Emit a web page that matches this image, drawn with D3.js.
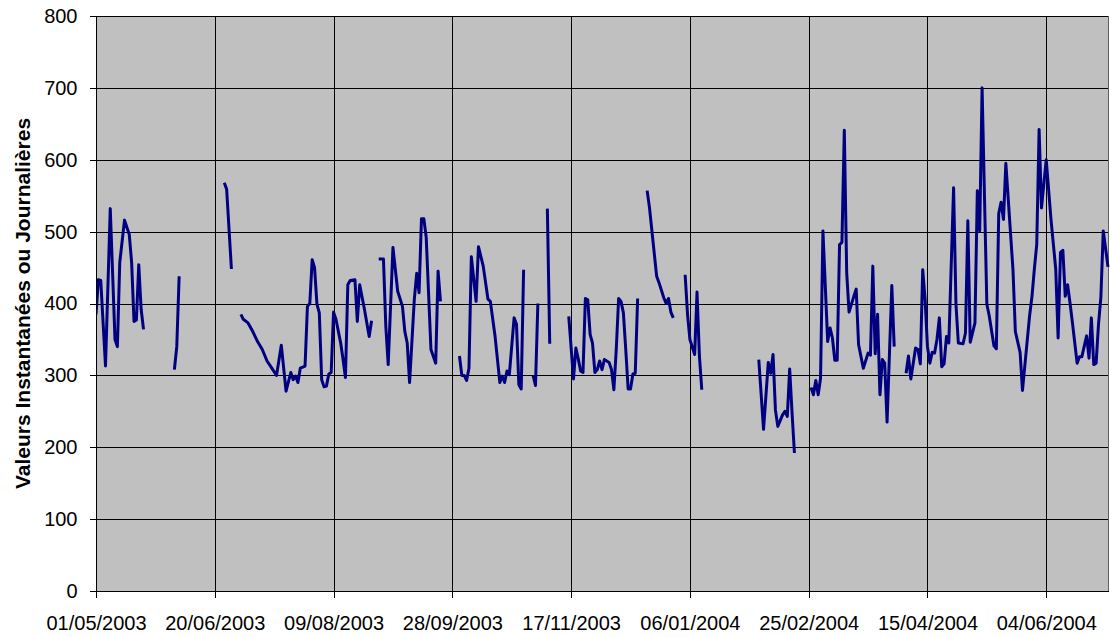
<!DOCTYPE html>
<html>
<head>
<meta charset="utf-8">
<script src="https://cdn.jsdelivr.net/npm/d3@7"></script>
<style>
  html, body { margin: 0; padding: 0; background: #ffffff; }
  svg { display: block; }
  text { font-family: "Liberation Sans", Arial, sans-serif; fill: #000; }
</style>
</head>
<body>
<svg id="chart" width="1110" height="637"></svg>
<script>
// Axis bounds and ticks
const startLabel = "01/05/2003";
const endLabel = "30/06/2004";
const xTickLabels = ["01/05/2003", "20/06/2003", "09/08/2003", "28/09/2003", "17/11/2003",
                     "06/01/2004", "25/02/2004", "15/04/2004", "04/06/2004"];
const yTicks = [0, 100, 200, 300, 400, 500, 600, 700, 800];
const yTitle = "Valeurs Instantanées ou Journalières";

// Observations: day number counted from 01/05/2003, and the value for that day.
// A null in both arrays marks a break in the record (no measurement).
const obsDay = [
  0, 1, 2, 4, 6, 8, 9, 10, 12, 14, 15, 16, 17, 18, 19, 20, null,
  33, 34, 35, null,
  54, 55, 57, null,
  61, 62, 64, 66, 68, 70, 72, 74, 76, 78, 80, 82, 83, 84, 85, 86, 88, 89, 90, 91, 92, 93, 94,
  95, 96, 97, 98, 99, 100, 101, 103, 104, 105, 106, 107, 109, 110, 111, 113, 115, 116, null,
  119, 121, 122, 123, 125, 127, 129, 130, 131, 132, 134, 135, 136, 137, 138, 139, 141, 143, 144, 145, null,
  153, 154, 155, 156, 157, 158, 160, 161, 163, 165, 166, 168, 170, 171, 172, 173, 174, 176, 177, 178, 179, 180, null,
  184, 185, 186, null,
  190, 191, null,
  199, 201, 202, 203, 204, 205, 206, 207, 208, 209, 210, 211, 212, 213, 214, 216, 217, 218, 219, 220,
  221, 222, 223, 224, 225, 226, 227, 228, null,
  232, 233, 236, 237, 239, 240, 241, 242, 243, null,
  248, 249, 250, 252, 253, 254, 255, null,
  279, 281, 283, 284, 285, 286, 287, 289, 290, 291, 292, 293, 294, null,
  301, 302, 303, 304, 305, 306, 308, 309, 310, 311, 312, 313, 314, 315, 316, 317, 319, 320, 321, 323,
  325, 326, 327, 328, 329, 330, 331, 332, 333, 335, 336, null,
  341, 342, 343, 345, 346, 347, 348, 349, 350, 351, 352, 353, 354, 355, 356, 357, 358, 359, 361, 362,
  363, 365, 366, 367, 368, 370, 371, 372, 373, 375, 376, 378, 379, 380, 381, 382, 383, 386, 387, 389,
  390, 393, 394, 395, 396, 397, 398, 400, 402, 404, 405, 406, 407, 408, 409, 410, 411, 413, 414, 415,
  417, 418, 419, 420, 421, 422, 423, 424, 426
];
const obsValue = [
  385, 433, 432, 313, 532, 350, 340, 457, 516, 496, 457, 375, 377, 454, 392, 364, null,
  308, 340, 438, null,
  568, 559, 448, null,
  385, 378, 373, 361, 347, 336, 320, 310, 300, 342, 278, 304, 294, 299, 290, 310, 313, 396, 400, 461, 450, 399, 387,
  294, 284, 285, 302, 304, 388, 378, 345, 322, 297, 426, 432, 433, 375, 426, 392, 354, 376, null,
  462, 462, 368, 315, 478, 417, 396, 361, 345, 290, 406, 442, 415, 518, 518, 492, 336, 317, 445, 403, null,
  327, 300, 300, 293, 310, 465, 403, 479, 452, 406, 403, 354, 290, 299, 290, 306, 301, 380, 371, 287, 281, 447, null,
  300, 286, 400, null,
  532, 344, null,
  382, 295, 338, 323, 306, 304, 407, 405, 357, 345, 304, 308, 320, 308, 322, 318, 308, 280, 336, 407,
  403, 387, 336, 281, 281, 302, 303, 407, null,
  557, 533, 438, 429, 408, 400, 407, 388, 380, null,
  440, 385, 350, 329, 416, 327, 280, null,
  322, 225, 318, 303, 329, 252, 229, 245, 250, 243, 309, 248, 192, null,
  283, 273, 293, 273, 296, 501, 347, 366, 352, 321, 321, 482, 485, 641, 443, 388, 410, 420, 343, 310,
  331, 328, 452, 330, 385, 273, 322, 317, 235, 425, 340, null,
  303, 327, 295, 338, 336, 316, 447, 406, 340, 317, 332, 331, 350, 380, 312, 316, 354, 345, 561, 399,
  345, 344, 359, 515, 346, 373, 557, 501, 700, 399, 383, 341, 337, 525, 541, 517, 595, 447, 361, 332,
  279, 383, 410, 448, 482, 642, 533, 600, 517, 448, 352, 471, 474, 410, 426, 401, 374, 317, 326, 326,
  355, 324, 380, 315, 317, 371, 409, 501, 451
];

const parseDay = d3.timeParse("%d/%m/%Y");
const formatDay = d3.timeFormat("%d/%m/%Y");
const start = parseDay(startLabel);
const end = parseDay(endLabel);

const points = obsDay.map((d, i) => ({
  date: d == null ? null : d3.timeDay.offset(start, d),
  value: obsValue[i]
}));

// Plot area
const plot = { left: 96, right: 1108, top: 16, bottom: 591 };

const svg = d3.select("#chart");

const x = d3.scaleTime().domain([start, end]).range([plot.left, plot.right]);
const y = d3.scaleLinear().domain([0, 800]).range([plot.bottom, plot.top]);
const xTicks = xTickLabels.map(parseDay);

// Grey plot background
svg.append("rect")
  .attr("x", plot.left).attr("y", plot.top)
  .attr("width", plot.right - plot.left).attr("height", plot.bottom - plot.top)
  .attr("fill", "#c0c0c0");

// Gridlines
const grid = svg.append("g").attr("shape-rendering", "crispEdges");
grid.selectAll("line.h")
  .data(yTicks.filter(v => v > 0))
  .join("line")
  .attr("x1", plot.left).attr("x2", plot.right)
  .attr("y1", d => Math.round(y(d)) + 0.5).attr("y2", d => Math.round(y(d)) + 0.5)
  .attr("stroke", "#000").attr("stroke-width", 1);
grid.selectAll("line.v")
  .data(xTicks.slice(1))
  .join("line")
  .attr("x1", d => Math.round(x(d)) + 0.5).attr("x2", d => Math.round(x(d)) + 0.5)
  .attr("y1", plot.top).attr("y2", plot.bottom)
  .attr("stroke", "#000").attr("stroke-width", 1);

// Right border of the plot area
grid.append("line")
  .attr("x1", plot.right + 0.5).attr("x2", plot.right + 0.5)
  .attr("y1", plot.top).attr("y2", plot.bottom)
  .attr("stroke", "#606060").attr("stroke-width", 1.5);

// Data line
svg.append("clipPath").attr("id", "plotClip")
  .append("rect")
  .attr("x", plot.left).attr("y", plot.top - 2)
  .attr("width", plot.right - plot.left + 2).attr("height", plot.bottom - plot.top + 4);

const line = d3.line()
  .defined(d => d.value != null)
  .x(d => x(d.date))
  .y(d => y(d.value));

svg.append("path")
  .datum(points)
  .attr("clip-path", "url(#plotClip)")
  .attr("d", line)
  .attr("fill", "none")
  .attr("stroke", "#000080")
  .attr("stroke-width", 3)
  .attr("stroke-linejoin", "round");

// Axes
const yAxis = d3.axisLeft(y).tickValues(yTicks).tickSize(7).tickPadding(12);
const xAxis = d3.axisBottom(x).tickValues(xTicks).tickFormat(formatDay).tickSize(6).tickPadding(18);

const gy = svg.append("g")
  .attr("transform", `translate(${plot.left + 0.5},0)`)
  .attr("shape-rendering", "crispEdges")
  .call(yAxis);
gy.select(".domain").remove();
gy.append("line").attr("y1", plot.top).attr("y2", plot.bottom + 1)
  .attr("stroke", "#000").attr("stroke-width", 1.5);

const gx = svg.append("g")
  .attr("transform", `translate(0,${plot.bottom + 0.5})`)
  .attr("shape-rendering", "crispEdges")
  .call(xAxis);
gx.select(".domain").remove();
gx.append("line").attr("x1", plot.left).attr("x2", plot.right + 1)
  .attr("stroke", "#000").attr("stroke-width", 1.5);

svg.selectAll(".tick line").attr("stroke", "#000");
svg.selectAll(".tick text")
  .attr("font-family", "'Liberation Sans', Arial, sans-serif")
  .attr("font-size", 20)
  .attr("fill", "#000");

// Axis title
svg.append("text")
  .attr("transform", `translate(30,${(plot.top + plot.bottom) / 2}) rotate(-90)`)
  .attr("text-anchor", "middle")
  .attr("font-size", 21)
  .attr("font-weight", "bold")
  .text(yTitle);
</script>
</body>
</html>
